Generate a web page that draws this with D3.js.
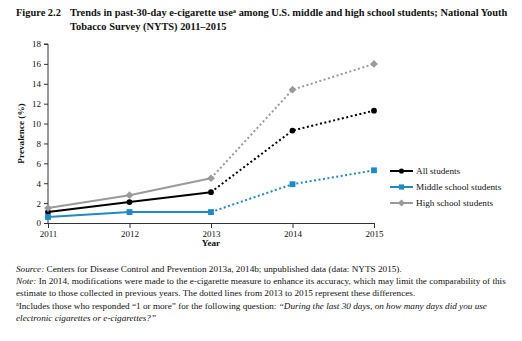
<!DOCTYPE html>
<html>
<head>
<meta charset="utf-8">
<script src="https://cdn.jsdelivr.net/npm/d3@7"></script>
<style>
  body { margin: 0; background: #fff; }
  text { font-family: "Liberation Serif", "Times New Roman", serif; fill: #111; }
</style>
</head>
<body>
<div id="chart"></div>
<script>
var years = [2011, 2012, 2013, 2014, 2015];
var allStudents = [1.1, 2.1, 3.1, 9.3, 11.3];
var middleSchool = [0.6, 1.1, 1.1, 3.9, 5.3];
var highSchool = [1.5, 2.8, 4.5, 13.4, 16.0];
var yTicks = [0, 2, 4, 6, 8, 10, 12, 14, 16, 18];
var seriesNames = ["All students", "Middle school students", "High school students"];

var width = 522, height = 341;
var plot = { left: 48, right: 374, top: 44, bottom: 223 };

var svg = d3.select("#chart").append("svg")
    .attr("width", width)
    .attr("height", height);

var x = d3.scaleLinear().domain([2011, 2015]).range([plot.left, plot.right]);
var y = d3.scaleLinear().domain([0, 18]).range([plot.bottom, plot.top]);

// title
var title = svg.append("g").style("font-weight", "bold").style("font-size", "10.4px");
title.append("text").attr("x", 16).attr("y", 16).text("Figure 2.2");
var t1 = title.append("text").attr("x", 70).attr("y", 16);
t1.append("tspan").text("Trends in past-30-day e-cigarette use");
t1.append("tspan").attr("dy", -3.5).style("font-size", "6.5px").text("a");
t1.append("tspan").attr("dy", 3.5).text(" among U.S. middle and high school students; National Youth");
title.append("text").attr("x", 70).attr("y", 30).text("Tobacco Survey (NYTS) 2011\u20132015");

// axes
var yAxis = d3.axisLeft(y).tickValues(yTicks).tickSize(4).tickPadding(3);
var xAxis = d3.axisBottom(x).tickValues(years).tickFormat(d3.format("d")).tickSize(5).tickPadding(3);

var gy = svg.append("g").attr("transform", "translate(" + plot.left + ",0)").call(yAxis);
var gx = svg.append("g").attr("transform", "translate(0," + plot.bottom + ")").call(xAxis);
[gx, gy].forEach(function (g) {
    g.selectAll("path, line").attr("stroke", "#333").attr("stroke-width", 1);
    g.selectAll("text").style("font-family", "'Liberation Serif', serif").style("font-size", "9px").attr("fill", "#222");
});
gy.select(".domain").attr("d", "M0," + plot.bottom + "V" + plot.top + "H-4");

svg.append("text")
    .attr("transform", "translate(24," + ((plot.top + plot.bottom) / 2) + ") rotate(-90)")
    .attr("text-anchor", "middle")
    .style("font-weight", "bold").style("font-size", "9.2px")
    .text("Prevalence (%)");

svg.append("text")
    .attr("x", x(2013)).attr("y", 246)
    .attr("text-anchor", "middle")
    .style("font-weight", "bold").style("font-size", "9.2px")
    .text("Year");

// series; diamonds are squares turned 45 degrees
var series = [
    { name: seriesNames[0], values: allStudents, color: "#000", shape: d3.symbolCircle, size: 26, rot: 0 },
    { name: seriesNames[1], values: middleSchool, color: "#1f8ac6", shape: d3.symbolSquare, size: 34, rot: 0 },
    { name: seriesNames[2], values: highSchool, color: "#9a9a9a", shape: d3.symbolSquare, size: 30, rot: 45 }
];

var line = d3.line()
    .x(function (d) { return x(d.year); })
    .y(function (d) { return y(d.value); });

series.forEach(function (s) {
    var pts = years.map(function (yr, i) { return { year: yr, value: s.values[i] }; });
    // solid through 2013, dotted after the measure change
    svg.append("path")
        .datum(pts.slice(0, 3))
        .attr("d", line)
        .attr("fill", "none")
        .attr("stroke", s.color)
        .attr("stroke-width", 2);
    svg.append("path")
        .datum(pts.slice(2))
        .attr("d", line)
        .attr("fill", "none")
        .attr("stroke", s.color)
        .attr("stroke-width", 2)
        .attr("stroke-dasharray", "2,2.5");
    svg.selectAll(null)
        .data(pts)
        .enter().append("path")
        .attr("d", d3.symbol().type(s.shape).size(s.size))
        .attr("transform", function (d) {
            return "translate(" + x(d.year) + "," + y(d.value) + ") rotate(" + s.rot + ")";
        })
        .attr("fill", s.color);
});

// legend
var legend = svg.append("g").attr("transform", "translate(390,171)");
series.forEach(function (s, i) {
    var row = legend.append("g").attr("transform", "translate(0," + (i * 16) + ")");
    row.append("line").attr("x1", 0).attr("x2", 23).attr("y1", 0).attr("y2", 0)
        .attr("stroke", s.color).attr("stroke-width", 2);
    row.append("path").attr("d", d3.symbol().type(s.shape).size(s.size * 0.8))
        .attr("transform", "translate(11.5,0) rotate(" + s.rot + ")").attr("fill", s.color);
    row.append("text").attr("x", 26).attr("y", 3).style("font-size", "9.2px").text(s.name);
});

// notes
var notes = svg.append("g").style("font-size", "9.2px");
var n1 = notes.append("text").attr("x", 16).attr("y", 272);
n1.append("tspan").style("font-style", "italic").text("Source:");
n1.append("tspan").text(" Centers for Disease Control and Prevention 2013a, 2014b; unpublished data (data: NYTS 2015).");
var n2 = notes.append("text").attr("x", 16).attr("y", 284);
n2.append("tspan").style("font-style", "italic").text("Note:");
n2.append("tspan").text(" In 2014, modifications were made to the e-cigarette measure to enhance its accuracy, which may limit the comparability of this");
notes.append("text").attr("x", 16).attr("y", 296)
    .text("estimate to those collected in previous years. The dotted lines from 2013 to 2015 represent these differences.");
var n4 = notes.append("text").attr("x", 16).attr("y", 309);
n4.append("tspan").attr("dy", -3).style("font-size", "6px").text("a");
n4.append("tspan").attr("dy", 3).text("Includes those who responded \u201c1 or more\u201d for the following question: ");
n4.append("tspan").style("font-style", "italic").text("\u201cDuring the last 30 days, on how many days did you use");
notes.append("text").attr("x", 16).attr("y", 321).style("font-style", "italic")
    .text("electronic cigarettes or e-cigarettes?\u201d");
</script>
</body>
</html>
